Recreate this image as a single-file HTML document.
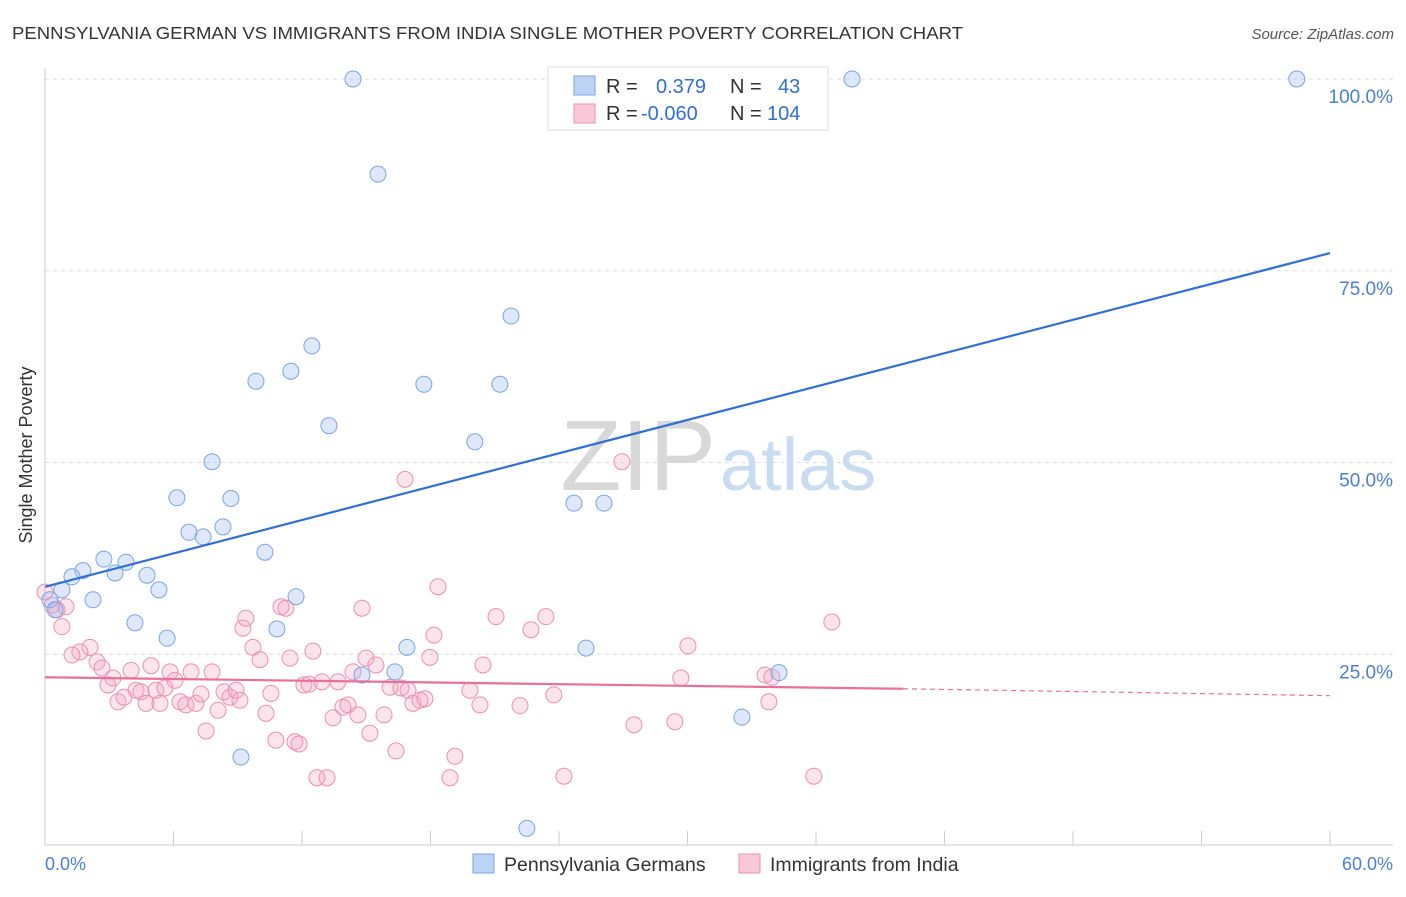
<!DOCTYPE html>
<html><head><meta charset="utf-8"><style>
body{margin:0;background:#fff;font-family:"Liberation Sans",sans-serif;}
svg text{font-family:"Liberation Sans",sans-serif;}
</style></head><body>
<svg width="1406" height="892" viewBox="0 0 1406 892">
<text x="12" y="39" font-size="17.5" fill="#333" textLength="951" lengthAdjust="spacingAndGlyphs">PENNSYLVANIA GERMAN VS IMMIGRANTS FROM INDIA SINGLE MOTHER POVERTY CORRELATION CHART</text>
<text x="1394" y="39" font-size="15" fill="#555" text-anchor="end" font-style="italic">Source: ZipAtlas.com</text>
<g id="grid"></g>
<text x="716" y="490" font-size="100" fill="#d8d8d8" text-anchor="end" font-family="Liberation Serif">ZIP</text>
<text x="720" y="490" font-size="74" fill="#c9dcf2">atlas</text>
<g id="pts"></g>
<g id="lines"></g>
<text x="32" y="455" font-size="18" fill="#333" text-anchor="middle" transform="rotate(-90 32 455)">Single Mother Poverty</text>
<text x="45" y="870" font-size="18" fill="#4a7fd4">0.0%</text>
<text x="1393" y="870" font-size="18" fill="#4a7fd4" text-anchor="end">60.0%</text>
<g>
<rect x="548" y="67" width="280" height="63" fill="#fff" stroke="#ddd"/>
<rect x="574" y="76" width="21" height="19" fill="#bcd3f5" stroke="#7aa5e0"/>
<rect x="574" y="104" width="21" height="19" fill="#f9c9da" stroke="#eb8fb0"/>
<text x="606" y="93" font-size="20" fill="#333">R = <tspan fill="#2f6fd6" x="656">0.379</tspan><tspan fill="#333" x="730">N =</tspan><tspan fill="#2f6fd6" x="778">43</tspan></text>
<text x="606" y="120" font-size="20" fill="#333">R = <tspan fill="#2f6fd6" x="641">-0.060</tspan><tspan fill="#333" x="730">N =</tspan><tspan fill="#2f6fd6" x="767">104</tspan></text>
</g>
<g>
<rect x="473" y="854" width="21" height="19" fill="#bcd3f5" stroke="#7aa5e0"/>
<text x="504" y="871" font-size="19.5" fill="#333">Pennsylvania Germans</text>
<rect x="739" y="854" width="21" height="19" fill="#f9c9da" stroke="#eb8fb0"/>
<text x="770" y="871" font-size="19.5" fill="#333">Immigrants from India</text>
</g>
</svg>
<script>
const yTicks=[25,50,75,100];
const yTickLabels=["25.0%","50.0%","75.0%","100.0%"];
const xTicks=[6,12,18,24,30,36,42,48,54,60];
const blueX=[14.38,37.68,58.45,15.55,21.76,12.46,9.85,11.48,17.69,21.24,13.26,20.07,7.80,6.16,8.68,24.70,26.10,8.31,6.72,7.38,10.27,2.75,3.78,1.77,1.26,3.27,4.76,0.79,5.32,2.24,11.72,0.23,0.47,4.20,5.70,10.83,16.90,25.26,14.80,16.34,34.27,32.54,9.15,22.50];
const blueY=[100,100,100,87.6,69.1,65.2,60.6,61.9,60.2,60.2,54.8,52.7,50.1,45.4,45.3,44.7,44.7,41.6,40.9,40.3,38.3,37.4,37.0,35.9,35.1,35.6,35.3,33.4,33.4,32.1,32.5,32.1,30.8,29.1,27.1,28.3,25.9,25.8,22.3,22.7,22.6,16.8,11.6,2.3];
const pinkX=[0.0,0.33,0.56,0.98,0.79,2.10,1.63,1.26,2.43,2.66,2.94,3.17,3.41,3.69,4.02,4.25,4.48,4.72,4.95,5.18,5.37,5.60,5.84,6.07,6.30,6.58,6.82,7.05,7.28,7.52,7.80,8.08,8.36,8.64,8.92,9.10,9.24,9.38,9.71,10.04,10.32,10.55,10.78,11.02,11.25,11.44,11.67,11.86,12.09,12.33,12.51,12.70,12.93,13.17,13.45,13.68,13.91,14.15,14.38,14.61,14.80,14.99,15.17,15.45,15.83,16.11,16.39,16.62,16.81,16.95,17.18,17.51,17.74,17.97,18.16,18.35,18.91,19.14,19.84,20.31,20.45,21.06,22.18,22.69,23.39,23.76,24.23,26.94,27.50,29.41,29.69,30.02,33.62,33.94,33.80,35.90,36.74];
const pinkY=[33.1,31.4,30.8,31.2,28.6,25.9,25.3,24.9,24.0,23.2,21.0,21.9,18.8,19.4,22.9,20.3,20.1,18.6,23.5,20.3,18.6,20.6,22.7,21.6,18.8,18.4,22.7,18.6,19.8,15.0,22.7,17.7,20.1,19.4,20.3,19.0,28.4,29.7,25.9,24.3,17.3,19.9,13.8,31.2,31.0,24.5,13.6,13.3,21.0,21.1,25.4,8.9,21.4,8.9,16.7,21.4,18.1,18.4,22.7,17.1,31.0,24.5,14.7,23.6,17.1,20.7,12.4,20.6,47.8,20.3,18.6,19.0,19.2,24.6,27.5,33.8,8.9,11.7,20.3,18.4,23.6,29.9,18.3,28.2,29.9,19.7,9.1,50.1,15.8,16.2,21.9,26.1,22.3,22.0,18.8,9.1,29.2];
const blueTrend=[[0,33.8],[60,77.3]];
const pinkTrend=[[0,22.0],[40.06,20.5]];
const pinkTrendDash=[[40.06,20.5],[60,19.6]];
const NS='http://www.w3.org/2000/svg';
const sx=v=>45+v*(1330-45)/60;
const sy=v=>846-v*7.67;
function mk(tag,attrs,parent){const e=document.createElementNS(NS,tag);for(const k in attrs)e.setAttribute(k,attrs[k]);parent.appendChild(e);return e;}
const grid=document.getElementById('grid');
yTicks.forEach((t,i)=>{
  const l=mk('line',{x1:45,x2:1393,y1:sy(t),y2:sy(t),stroke:'#ddd','stroke-dasharray':'4 4'},grid);
  
  
  const tx=mk('text',{x:1393,y:sy(t)+24,'font-size':19,fill:'#4a7fd4','text-anchor':'end'},grid);
  tx.textContent=yTickLabels[i];
  
  
});
const ax=mk('line',{x1:45,x2:1393,y1:845,y2:845,stroke:'#ccc'},grid);


const ay=mk('line',{x1:45,x2:45,y1:68,y2:845,stroke:'#ccc'},grid);


xTicks.forEach(t=>{
  const l=mk('line',{x1:sx(t),x2:sx(t),y1:831,y2:845,stroke:'#ccc'},grid);
  
  
});
const pts=document.getElementById('pts');
pinkX.forEach((x,i)=>{
  const c=mk('circle',{cx:sx(x),cy:sy(pinkY[i]),r:8,fill:'rgba(245,165,195,0.3)',stroke:'#eb8fb0','stroke-width':1},pts);
  
  
});
blueX.forEach((x,i)=>{
  const c=mk('circle',{cx:sx(x),cy:sy(blueY[i]),r:8,fill:'rgba(160,190,240,0.35)',stroke:'#7aa5e0','stroke-width':1},pts);
  
  
});
const lines=document.getElementById('lines');
const bl=mk('line',{x1:sx(blueTrend[0][0]),y1:sy(blueTrend[0][1]),x2:sx(blueTrend[1][0]),y2:sy(blueTrend[1][1]),stroke:'#2f6fd6','stroke-width':2.2},lines);


const pl=mk('line',{x1:sx(pinkTrend[0][0]),y1:sy(pinkTrend[0][1]),x2:sx(pinkTrend[1][0]),y2:sy(pinkTrend[1][1]),stroke:'#e8709a','stroke-width':2.2},lines);


const pd=mk('line',{x1:sx(pinkTrendDash[0][0]),y1:sy(pinkTrendDash[0][1]),x2:sx(pinkTrendDash[1][0]),y2:sy(pinkTrendDash[1][1]),stroke:'#e8709a','stroke-width':1.2,'stroke-dasharray':'5 4'},lines);


</script>
</body></html>
